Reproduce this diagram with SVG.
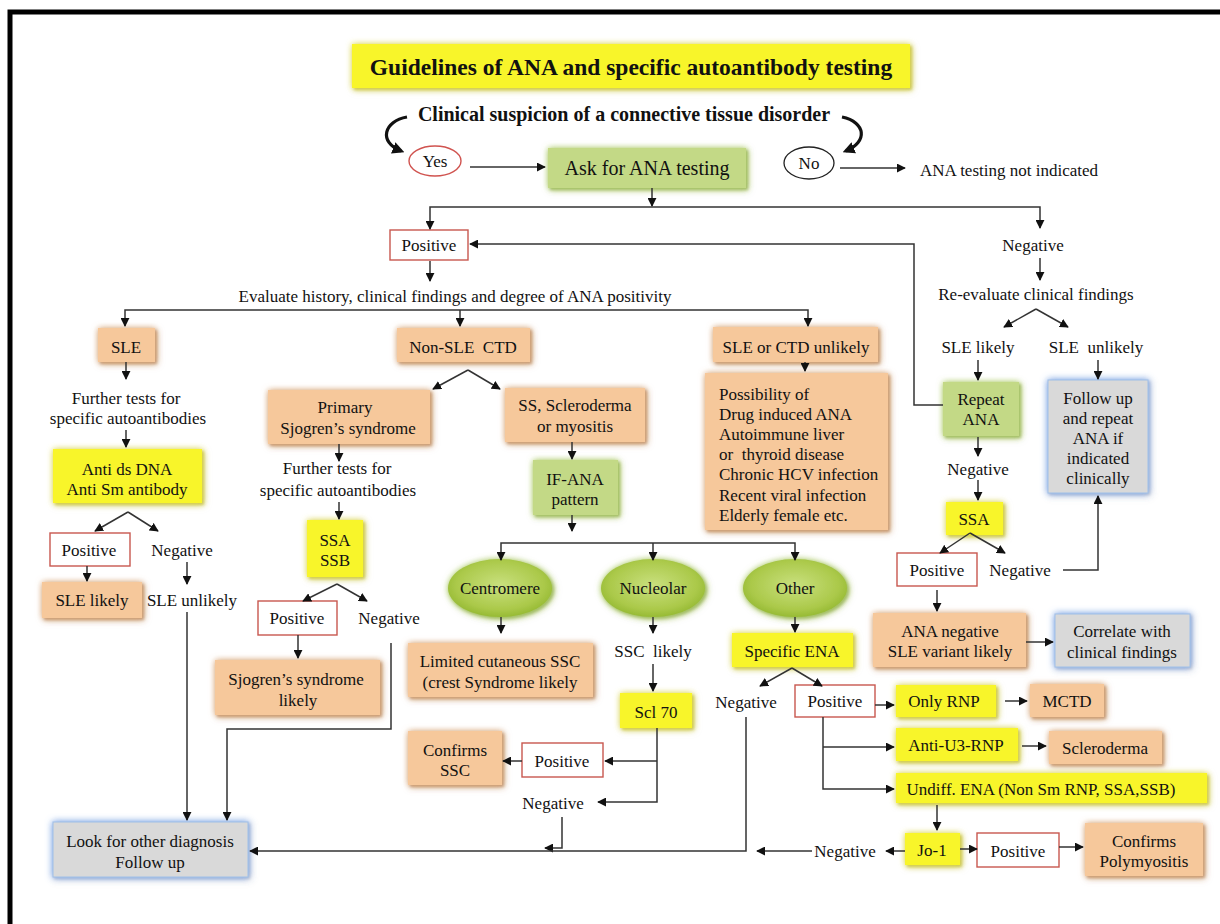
<svg xmlns="http://www.w3.org/2000/svg" width="1220" height="924" viewBox="0 0 1220 924" font-family="'Liberation Serif', 'DejaVu Serif', serif">
<defs>
<style>
text{font-family:'Liberation Serif','Tinos','DejaVu Serif','Noto Serif',serif;fill:#111;font-size:17px;text-anchor:middle}
.l{text-anchor:start}
.tan{fill:#f6c89b;filter:url(#fTan)}
.yel{fill:#f8f52c;filter:url(#fYel)}
.grn{fill:#c3d986;filter:url(#fGrn)}
.gry{fill:#d9d9d9;stroke:#9fbfe8;stroke-width:1;filter:url(#fBlu)}
.red{fill:#fff;stroke:#c8574f;stroke-width:1.4}
.ell{fill:url(#rg);filter:url(#fGrn)}
.c path{fill:none;stroke:#333;stroke-width:1.5;marker-end:url(#a)}
.c path.big{stroke:#111;stroke-width:3.2;marker-end:url(#b)}
</style>
<marker id="a" viewBox="0 0 10 10" refX="9" refY="5" markerWidth="9" markerHeight="9" markerUnits="userSpaceOnUse" orient="auto"><path d="M0,0 L10,5 L0,10 z" fill="#111"/></marker>
<marker id="b" viewBox="0 0 10 10" refX="7" refY="5" markerWidth="12" markerHeight="12" markerUnits="userSpaceOnUse" orient="auto"><path d="M0,0 L10,5 L0,10 z" fill="#111"/></marker>
<filter id="fTan" x="-20%" y="-30%" width="140%" height="160%"><feDropShadow dx="0" dy="0" stdDeviation="3" flood-color="#d9a26e" flood-opacity="0.8"/><feDropShadow dx="2" dy="2" stdDeviation="1.5" flood-color="#a86a36" flood-opacity="0.7"/></filter>
<filter id="fYel" x="-20%" y="-30%" width="140%" height="160%"><feDropShadow dx="0" dy="0" stdDeviation="3" flood-color="#dcd63a" flood-opacity="0.8"/><feDropShadow dx="2" dy="2" stdDeviation="1.5" flood-color="#b3ad10" flood-opacity="0.7"/></filter>
<filter id="fGrn" x="-20%" y="-30%" width="140%" height="160%"><feDropShadow dx="0" dy="0" stdDeviation="3" flood-color="#a4c854" flood-opacity="0.8"/><feDropShadow dx="2" dy="2" stdDeviation="1.5" flood-color="#7c9d2c" flood-opacity="0.7"/></filter>
<filter id="fBlu" x="-20%" y="-30%" width="140%" height="160%"><feDropShadow dx="0" dy="0" stdDeviation="3.5" flood-color="#6ea2ef" flood-opacity="0.95"/><feDropShadow dx="1.5" dy="1.5" stdDeviation="1" flood-color="#8a8a8a" flood-opacity="0.5"/></filter>
<radialGradient id="rg" cx="50%" cy="45%" r="60%"><stop offset="0" stop-color="#c9e07e"/><stop offset="0.7" stop-color="#abc94a"/><stop offset="1" stop-color="#8fb52c"/></radialGradient>
</defs>
<rect width="1220" height="924" fill="#fff"/>
<path d="M10 924 V12 H1220" fill="none" stroke="#000" stroke-width="5"/>

<g id="title"><rect x="352" y="44" width="558" height="44" class="yel"/><text x="631" y="75" style="font-weight:bold;font-size:23.5px">Guidelines of ANA and specific autoantibody testing</text></g>
<g id="clinical"><text x="624" y="121" style="font-weight:bold;font-size:20px">Clinical suspicion of a connective tissue disorder</text></g>
<g id="yes"><ellipse cx="435" cy="161" rx="26" ry="15" fill="#fff" stroke="#d0534f" stroke-width="1.4"/><text x="435" y="167">Yes</text></g>
<g id="ask"><rect x="548" y="148" width="198" height="40" class="grn"/><text x="647" y="175" style="font-size:20px">Ask for ANA testing</text></g>
<g id="no"><ellipse cx="809" cy="163" rx="25" ry="16" fill="#fff" stroke="#222" stroke-width="1.3"/><text x="809" y="169">No</text></g>
<g id="notind"><text x="920" y="176" class="l">ANA testing  not indicated</text></g>
<g id="pos1"><rect x="390" y="230" width="78" height="30" class="red"/><text x="429" y="251">Positive</text></g>
<g id="negtop"><text x="1033" y="251">Negative</text></g>
<g id="evaluate"><text x="455" y="302">Evaluate history, clinical findings and degree of ANA positivity</text></g>
<g id="reeval"><text x="1036" y="300">Re-evaluate clinical findings</text></g>

<g id="sle"><rect x="98" y="328" width="57" height="34" class="tan"/><text x="126" y="353">SLE</text></g>
<g id="further1"><text x="126" y="404">Further tests for</text><text x="128" y="424">specific autoantibodies</text></g>
<g id="antids"><rect x="53" y="449" width="149" height="54" class="yel"/><text x="127" y="475">Anti ds DNA</text><text x="127" y="495">Anti Sm antibody</text></g>
<g id="pos2"><rect x="50" y="533" width="80" height="33" class="red"/><text x="89" y="556">Positive</text></g>
<g id="neg2"><text x="182" y="556">Negative</text></g>
<g id="slelikely"><rect x="42" y="582" width="100" height="36" class="tan"/><text x="92" y="606">SLE likely</text></g>
<g id="sleunlikely"><text x="192" y="606">SLE unlikely</text></g>
<g id="look"><rect x="53" y="822" width="195" height="55" class="gry"/><text x="150" y="847">Look for other diagnosis</text><text x="150" y="868">Follow up</text></g>

<g id="nonsle"><rect x="397" y="328" width="133" height="34" class="tan"/><text x="463" y="353" style="white-space:pre">Non-SLE  CTD</text></g>
<g id="primary"><rect x="268" y="390" width="162" height="54" class="tan"/><text x="345" y="413">Primary</text><text x="348" y="434">Sjogren’s syndrome</text></g>
<g id="further2"><text x="337" y="474">Further tests for</text><text x="338" y="496">specific autoantibodies</text></g>
<g id="ssassb"><rect x="307" y="520" width="56" height="57" class="yel"/><text x="335" y="546">SSA</text><text x="335" y="566">SSB</text></g>
<g id="pos3"><rect x="258" y="601" width="79" height="34" class="red"/><text x="297" y="624">Positive</text></g>
<g id="neg3"><text x="389" y="624">Negative</text></g>
<g id="sjlikely"><rect x="215" y="660" width="165" height="55" class="tan"/><text x="296" y="685">Sjogren’s syndrome</text><text x="298" y="706">likely</text></g>

<g id="ss"><rect x="505" y="388" width="140" height="54" class="tan"/><text x="575" y="411">SS, Scleroderma</text><text x="575" y="432">or myositis</text></g>
<g id="ifana"><rect x="533" y="460" width="85" height="55" class="grn"/><text x="575" y="485">IF-ANA</text><text x="575" y="505">pattern</text></g>
<g id="centromere"><ellipse cx="500" cy="588" rx="52" ry="29" class="ell"/><text x="500" y="594">Centromere</text></g>
<g id="nucleolar"><ellipse cx="653" cy="588" rx="52" ry="29" class="ell"/><text x="653" y="594">Nucleolar</text></g>
<g id="other"><ellipse cx="795" cy="588" rx="52" ry="29" class="ell"/><text x="795" y="594">Other</text></g>
<g id="limited"><rect x="408" y="643" width="185" height="54" class="tan"/><text x="500" y="667">Limited cutaneous SSC</text><text x="500" y="688">(crest Syndrome likely</text></g>
<g id="ssclikely"><text x="653" y="657" style="white-space:pre">SSC  likely</text></g>
<g id="scl70"><rect x="620" y="693" width="72" height="35" class="yel"/><text x="656" y="718">Scl 70</text></g>
<g id="confssc"><rect x="408" y="731" width="94" height="54" class="tan"/><text x="455" y="756">Confirms</text><text x="455" y="776">SSC</text></g>
<g id="pos4"><rect x="522" y="743" width="81" height="34" class="red"/><text x="562" y="767">Positive</text></g>
<g id="neg4"><text x="553" y="809">Negative</text></g>

<g id="slectd"><rect x="713" y="327" width="165" height="35" class="tan"/><text x="796" y="353">SLE or CTD unlikely</text></g>
<g id="possibility"><rect x="705" y="373" width="183" height="157" class="tan"/>
<text x="719" y="400" class="l">Possibility of</text><text x="719" y="420" class="l">Drug induced ANA</text><text x="719" y="440" class="l">Autoimmune liver</text><text x="719" y="460" class="l" style="white-space:pre">or  thyroid disease</text><text x="719" y="480" class="l">Chronic HCV infection</text><text x="719" y="501" class="l">Recent viral infection</text><text x="719" y="521" class="l">Elderly female etc.</text></g>
<g id="specena"><rect x="732" y="633" width="121" height="34" class="yel"/><text x="792" y="657">Specific ENA</text></g>
<g id="neg5"><text x="746" y="708">Negative</text></g>
<g id="pos5"><rect x="795" y="685" width="80" height="32" class="red"/><text x="835" y="707">Positive</text></g>
<g id="onlyrnp"><rect x="896" y="685" width="100" height="32" class="yel"/><text x="944" y="707">Only RNP</text></g>
<g id="mctd"><rect x="1030" y="684" width="74" height="33" class="tan"/><text x="1067" y="707">MCTD</text></g>
<g id="antiu3"><rect x="896" y="728" width="122" height="33" class="yel"/><text x="956" y="751">Anti-U3-RNP</text></g>
<g id="sclero"><rect x="1049" y="731" width="113" height="33" class="tan"/><text x="1105" y="754">Scleroderma</text></g>
<g id="undiff"><rect x="896" y="773" width="311" height="30" class="yel"/><text x="1041" y="795">Undiff. ENA (Non Sm RNP, SSA,SSB)</text></g>
<g id="jo1"><rect x="905" y="833" width="55" height="32" class="yel"/><text x="932" y="856">Jo-1</text></g>
<g id="pos6"><rect x="977" y="833" width="82" height="34" class="red"/><text x="1018" y="857">Positive</text></g>
<g id="confpoly"><rect x="1085" y="823" width="118" height="53" class="tan"/><text x="1144" y="847">Confirms</text><text x="1144" y="867">Polymyositis</text></g>
<g id="neg6"><text x="845" y="857">Negative</text></g>

<g id="slelikely2"><text x="978" y="353">SLE likely</text></g>
<g id="sleunlikely2"><text x="1096" y="353" style="white-space:pre">SLE  unlikely</text></g>
<g id="repeat"><rect x="943" y="382" width="76" height="54" class="grn"/><text x="981" y="405">Repeat</text><text x="981" y="425">ANA</text></g>
<g id="follow"><rect x="1048" y="380" width="100" height="113" class="gry"/><text x="1098" y="404">Follow up</text><text x="1098" y="424">and repeat</text><text x="1098" y="444">ANA if</text><text x="1098" y="464">indicated</text><text x="1098" y="484">clinically</text></g>
<g id="neg7"><text x="978" y="475">Negative</text></g>
<g id="ssa"><rect x="946" y="502" width="57" height="33" class="yel"/><text x="974" y="525">SSA</text></g>
<g id="pos7"><rect x="897" y="553" width="80" height="33" class="red"/><text x="937" y="576">Positive</text></g>
<g id="neg8"><text x="1020" y="576">Negative</text></g>
<g id="ananeg"><rect x="873" y="613" width="153" height="54" class="tan"/><text x="950" y="637">ANA negative</text><text x="950" y="657">SLE variant likely</text></g>
<g id="correlate"><rect x="1055" y="614" width="135" height="53" class="gry"/><text x="1122" y="637">Correlate with</text><text x="1122" y="658">clinical findings</text></g>

<g id="connectors" class="c">
<path class="big" d="M407 117 C384 121 378 142 401 151"/>
<path class="big" d="M842 117 C866 122 868 142 846 151"/>
<path d="M470 167 H545"/>
<path d="M840 168 H905"/>
<path d="M652 188 V206"/>
<path d="M652 207 H430 V229"/>
<path d="M652 207 H1040 V228"/>
<path d="M1040 258 V280"/>
<path d="M943 405 H914 V244 H470"/>
<path d="M430 261 V281"/>
<path d="M460 310 H125 V326"/>
<path d="M460 310 H808 V326"/>
<path d="M460 310 V326"/>
<path d="M126 362 V379"/>
<path d="M126 430 V447"/>
<path d="M128 512 L95 531"/>
<path d="M128 512 L158 531"/>
<path d="M87 566 V581"/>
<path d="M187 562 V584"/>
<path d="M187 612 V820"/>
<path d="M391 643 V729 H227 V820"/>
<path d="M468 370 L433 389"/>
<path d="M468 370 L500 389"/>
<path d="M339 444 V461"/>
<path d="M339 502 V519"/>
<path d="M337 584 L303 601"/>
<path d="M337 584 L367 601"/>
<path d="M298 635 V658"/>
<path d="M572 442 V459"/>
<path d="M572 515 V531"/>
<path d="M653 543 H501 V560"/>
<path d="M653 543 H795 V560"/>
<path d="M653 543 V560"/>
<path d="M501 617 V633"/>
<path d="M653 617 V633"/>
<path d="M653 664 V691"/>
<path d="M657 728 V802 H598"/>
<path d="M657 761 H605"/>
<path d="M522 761 H503"/>
<path d="M562 817 V848 H545"/>
<path d="M795 617 V632"/>
<path d="M792 668 L760 686"/>
<path d="M792 668 L822 686"/>
<path d="M746 717 V851 H250"/>
<path d="M875 705 H894"/>
<path d="M1005 701 H1027"/>
<path d="M823 717 V789 H894"/>
<path d="M823 747 H894"/>
<path d="M1022 746 H1046"/>
<path d="M937 805 V830"/>
<path d="M960 849 H977"/>
<path d="M1059 847 H1083"/>
<path d="M905 851 H886"/>
<path d="M812 851 H757"/>
<path d="M805 362 V371"/>
<path d="M1036 309 L1004 327"/>
<path d="M1036 309 L1068 327"/>
<path d="M978 360 V380"/>
<path d="M1098 360 V379"/>
<path d="M978 437 V456"/>
<path d="M978 480 V500"/>
<path d="M970 533 L940 553"/>
<path d="M970 533 L1005 553"/>
<path d="M1063 570 H1098 V496"/>
<path d="M937 590 V611"/>
<path d="M1026 642 H1053"/>
</g>
</svg>
